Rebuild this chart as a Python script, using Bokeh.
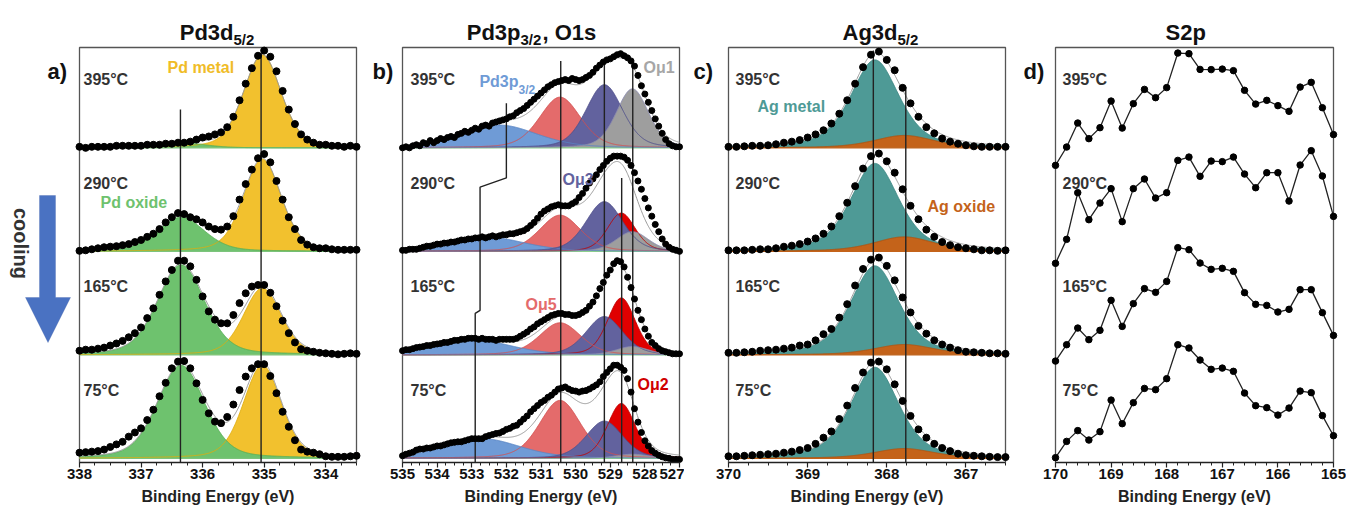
import numpy as np
from bokeh.plotting import figure
from bokeh.layouts import row
from bokeh.models import Range1d, FixedTicker, Label, PolyAnnotation
from bokeh.embed import file_html
from bokeh.resources import INLINE

FONT = "Liberation Sans"
temps = ["395°C", "290°C", "165°C", "75°C"]
offsets = [3.0, 2.0, 1.0, 0.0]

# ---------------- panel a: Pd3d5/2 (338.0 -> 333.5 eV, 0.1 eV steps)
a_start, a_step = 338.0, 0.1
a_395 = [0.01, 0.00, 0.01, 0.01, 0.01, 0.01, 0.02, 0.02, 0.02, 0.02,
         0.02, 0.03, 0.03, 0.03, 0.04, 0.04, 0.05, 0.05, 0.06, 0.08,
         0.10, 0.11, 0.13, 0.15, 0.20, 0.30, 0.46, 0.62, 0.77, 0.89,
         0.94, 0.88, 0.74, 0.55, 0.37, 0.23, 0.13, 0.08, 0.05, 0.03,
         0.03, 0.02, 0.02, 0.01, 0.02, 0.01]
a_290 = [0.005, 0.01, 0.02, 0.03, 0.04, 0.045, 0.05, 0.06, 0.07, 0.09,
         0.11, 0.14, 0.17, 0.215, 0.28, 0.33, 0.37, 0.36, 0.33, 0.31,
         0.28, 0.24, 0.215, 0.21, 0.24, 0.34, 0.50, 0.65, 0.79, 0.90,
         0.94, 0.86, 0.68, 0.50, 0.33, 0.215, 0.11, 0.065, 0.04, 0.03,
         0.03, 0.02, 0.015, 0.015, 0.015, 0.015]
a_165 = [0.04, 0.05, 0.05, 0.06, 0.07, 0.09, 0.11, 0.135, 0.17, 0.21,
         0.265, 0.355, 0.45, 0.58, 0.71, 0.82, 0.91, 0.91, 0.855, 0.725,
         0.565, 0.42, 0.34, 0.305, 0.305, 0.385, 0.50, 0.595, 0.66, 0.675,
         0.675, 0.60, 0.47, 0.33, 0.21, 0.12, 0.055, 0.04, 0.03, 0.02,
         0.015, 0.01, 0.005, 0.01, 0.015, 0.01]
a_75 = [0.055, 0.06, 0.065, 0.07, 0.085, 0.11, 0.135, 0.16, 0.21, 0.25,
        0.29, 0.37, 0.47, 0.60, 0.73, 0.87, 0.935, 0.94, 0.87, 0.725,
        0.565, 0.435, 0.355, 0.34, 0.40, 0.52, 0.66, 0.79, 0.87, 0.91,
        0.91, 0.795, 0.63, 0.45, 0.305, 0.175, 0.085, 0.065, 0.055, 0.04,
        0.02, 0.015, 0.015, 0.015, 0.02, 0.025]
a_metal_pos, a_metal_fwhm = 335.03, 0.72
a_metal_h = [0.90, 0.89, 0.645, 0.90]
a_oxide_pos, a_oxide_fwhm = 336.35, 0.90
a_oxide_h = [0.05, 0.33, 0.87, 0.90]
a_marker_x = [335.05, 336.36]
a_marker_top = [3.92, 3.37]

# ---------------- panel b: Pd3p3/2, O1s (535.0 -> 527.0 eV, 0.1 eV steps)
b_start, b_step = 535.0, 0.1
b_395 = [0.00, 0.01, 0.00, 0.02, 0.03, 0.02, 0.05, 0.04, 0.07, 0.05,
         0.07, 0.09, 0.08, 0.10, 0.11, 0.10, 0.13, 0.14, 0.16, 0.15,
         0.17, 0.19, 0.18, 0.21, 0.22, 0.21, 0.24, 0.25, 0.26, 0.27,
         0.28, 0.30, 0.31, 0.34, 0.36, 0.38, 0.41, 0.44, 0.47, 0.50,
         0.53, 0.56, 0.59, 0.61, 0.63, 0.64, 0.65, 0.66, 0.65, 0.67,
         0.66, 0.65, 0.66, 0.68, 0.70, 0.73, 0.77, 0.80, 0.83, 0.85,
         0.86, 0.88, 0.90, 0.91, 0.89, 0.87, 0.84, 0.79, 0.70, 0.60,
         0.52, 0.44, 0.36, 0.28, 0.21, 0.14, 0.08, 0.04, 0.02, 0.01,
         0.01]
b_290 = [0.01, 0.01, 0.02, 0.02, 0.02, 0.03, 0.04, 0.05, 0.05, 0.06,
         0.07, 0.07, 0.08, 0.08, 0.09, 0.09, 0.10, 0.11, 0.11, 0.12,
         0.12, 0.13, 0.13, 0.14, 0.13, 0.14, 0.15, 0.14, 0.15, 0.16,
         0.16, 0.17, 0.17, 0.18, 0.19, 0.20, 0.22, 0.25, 0.28, 0.32,
         0.36, 0.39, 0.41, 0.43, 0.44, 0.45, 0.44, 0.44, 0.44, 0.46,
         0.48, 0.52, 0.56, 0.61, 0.66, 0.70, 0.74, 0.79, 0.83, 0.87,
         0.90, 0.92, 0.92, 0.92, 0.91, 0.88, 0.83, 0.76, 0.68, 0.60,
         0.51, 0.42, 0.34, 0.26, 0.19, 0.12, 0.07, 0.04, 0.02, 0.01,
         0.00]
b_165 = [0.04, 0.05, 0.05, 0.06, 0.07, 0.075, 0.08, 0.09, 0.09, 0.10,
         0.105, 0.11, 0.12, 0.12, 0.13, 0.14, 0.14, 0.15, 0.15, 0.16,
         0.16, 0.16, 0.15, 0.16, 0.15, 0.15, 0.15, 0.14, 0.15, 0.15,
         0.15, 0.15, 0.15, 0.16, 0.18, 0.20, 0.22, 0.25, 0.27, 0.30,
         0.32, 0.34, 0.36, 0.38, 0.39, 0.40, 0.40, 0.39, 0.39, 0.38,
         0.38, 0.39, 0.41, 0.43, 0.47, 0.51, 0.57, 0.64, 0.70, 0.77,
         0.82, 0.88, 0.91, 0.90, 0.85, 0.75, 0.65, 0.54, 0.43, 0.34,
         0.25, 0.18, 0.12, 0.09, 0.06, 0.04, 0.03, 0.02, 0.01, 0.01,
         0.01]
b_75 = [0.025, 0.04, 0.05, 0.06, 0.08, 0.09, 0.09, 0.10, 0.10, 0.11,
        0.12, 0.12, 0.13, 0.14, 0.15, 0.155, 0.16, 0.16, 0.17, 0.18,
        0.19, 0.19, 0.19, 0.19, 0.21, 0.22, 0.23, 0.24, 0.245, 0.26,
        0.28, 0.29, 0.31, 0.32, 0.35, 0.38, 0.41, 0.45, 0.48, 0.51,
        0.54, 0.56, 0.59, 0.61, 0.64, 0.67, 0.68, 0.69, 0.67, 0.655,
        0.65, 0.64, 0.65, 0.655, 0.67, 0.69, 0.71, 0.74, 0.79, 0.83,
        0.865, 0.90, 0.90, 0.88, 0.85, 0.77, 0.64, 0.48, 0.35, 0.25,
        0.17, 0.12, 0.075, 0.05, 0.03, 0.015, 0.005, 0.0, -0.01, -0.01,
        -0.01]
b_pd3p_pos = [532.2, 532.6, 533.0, 532.7]
b_pd3p_fwhm = 2.6
b_pd3p_h = [0.22, 0.14, 0.15, 0.19]
b_o5_pos, b_o5_fwhm = 530.45, 1.4
b_o5_h = [0.49, 0.35, 0.31, 0.56]
b_o3_pos, b_o3_fwhm = 529.17, 1.25
b_o3_h = [0.61, 0.48, 0.37, 0.36]
b_o2_pos, b_o2_fwhm = 528.68, 0.95
b_o2_h = [0.0, 0.37, 0.55, 0.53]
b_o1_pos, b_o1_fwhm = 528.36, 1.1
b_o1_h = [0.57, 0.19, 0.08, 0.04]
b_marker_x = [530.43, 529.17, 528.67, 528.35]
b_marker_top = [3.84, 3.80, 2.71, 3.80]
b_pd3p_line_x = [532.0, 532.0, 532.76, 532.76, 532.9, 532.9]
b_pd3p_line_y = [3.43, 2.71, 2.62, 1.43, 1.40, -0.04]

# ---------------- panel c: Ag3d5/2 (370.0 -> 366.5 eV, 0.1 eV steps)
c_start, c_step = 370.0, 0.1
c_395 = [0.01, 0.01, 0.015, 0.02, 0.02, 0.025, 0.035, 0.05, 0.06, 0.075,
         0.10, 0.13, 0.17, 0.235, 0.33, 0.46, 0.62, 0.78, 0.90, 0.93,
         0.85, 0.75, 0.58, 0.43, 0.30, 0.20, 0.14, 0.09, 0.06, 0.04,
         0.025, 0.015, 0.01, 0.01, 0.01, 0.01]
c_290 = [0.01, 0.01, 0.01, 0.015, 0.02, 0.02, 0.03, 0.045, 0.055, 0.07,
         0.095, 0.125, 0.17, 0.24, 0.34, 0.47, 0.63, 0.80, 0.92, 0.945,
         0.87, 0.76, 0.60, 0.44, 0.31, 0.21, 0.14, 0.09, 0.06, 0.04,
         0.03, 0.02, 0.01, 0.01, 0.005, 0.01]
c_165 = [0.02, 0.02, 0.025, 0.03, 0.04, 0.045, 0.05, 0.06, 0.07, 0.09,
         0.10, 0.14, 0.20, 0.25, 0.36, 0.49, 0.67, 0.83, 0.92, 0.94,
         0.86, 0.72, 0.555, 0.41, 0.28, 0.205, 0.14, 0.10, 0.07, 0.045,
         0.03, 0.025, 0.02, 0.015, 0.015, 0.01]
c_75 = [0.02, 0.02, 0.025, 0.03, 0.035, 0.04, 0.045, 0.055, 0.065, 0.08,
        0.10, 0.14, 0.20, 0.26, 0.38, 0.51, 0.68, 0.83, 0.925, 0.935,
        0.86, 0.715, 0.555, 0.41, 0.28, 0.20, 0.14, 0.10, 0.07, 0.045,
        0.03, 0.025, 0.02, 0.015, 0.012, 0.012]
c_metal_pos, c_metal_fwhm = 368.15, 0.72
c_metal_h = [0.85, 0.85, 0.86, 0.88]
c_oxide_pos, c_oxide_fwhm = 367.78, 0.90
c_oxide_h = [0.12, 0.14, 0.10, 0.095]
c_marker_x = [368.17, 367.76]
c_marker_top = [3.94, 3.59]

# ---------------- panel d: S2p (170.0 -> 165.0 eV, 0.2 eV steps)
d_start, d_step = 170.0, 0.2
d_395 = [0.031, 0.208, 0.440, 0.289, 0.395, 0.652, 0.391, 0.627, 0.765, 0.685,
         0.782, 1.116, 1.110, 0.958, 0.956, 0.961, 0.946, 0.756, 0.623, 0.659,
         0.608, 0.553, 0.787, 0.833, 0.588, 0.328]
d_290 = [0.034, 0.266, 0.717, 0.456, 0.617, 0.756, 0.437, 0.756, 0.849, 0.665,
         0.717, 1.029, 1.061, 0.875, 1.022, 1.017, 1.061, 0.897, 0.765, 0.910,
         0.910, 0.636, 0.984, 1.123, 0.878, 0.488]
d_165 = [0.020, 0.178, 0.339, 0.227, 0.317, 0.607, 0.355, 0.575, 0.720, 0.684,
         0.790, 1.116, 1.096, 0.967, 0.906, 0.916, 0.887, 0.681, 0.568, 0.558,
         0.494, 0.520, 0.710, 0.710, 0.488, 0.268]
d_75 = [0.007, 0.164, 0.268, 0.177, 0.258, 0.563, 0.335, 0.538, 0.676, 0.664,
        0.770, 1.098, 1.066, 0.950, 0.860, 0.872, 0.841, 0.631, 0.509, 0.490,
        0.418, 0.486, 0.650, 0.635, 0.413, 0.219]
d_offsets = [2.8, 1.85, 0.92, 0.0]

x_title = "Binding Energy (eV)"

# ======================================================================
PPU = 103.5          # pixels per y unit
AXIS_Y = 462         # page y of the axis line
BOX_TOP = 47         # page y of the box top
PAGE_H = 507


def Y(py):
    return -0.04 + (AXIS_Y - py) / PPU


Y_LO, Y_TOP = Y(AXIS_Y), Y(BOX_TOP)

PANEL = {
    "a": dict(left=79, right=356, xr=(338.0, 333.5), f0=0, f1=361,
              ticks=[338, 337, 336, 335, 334], minor=[338 - 0.25 * i for i in range(19)]),
    "b": dict(left=402, right=679, xr=(535.0, 527.0), f0=361, f1=684,
              ticks=[535, 534, 533, 532, 531, 530, 529, 528, 527], minor=[535 - 0.25 * i for i in range(33)]),
    "c": dict(left=728, right=1005, xr=(370.0, 366.5), f0=684, f1=1010,
              ticks=[370, 369, 368, 367], minor=[370 - 0.25 * i for i in range(15)]),
    "d": dict(left=1055, right=1333, xr=(170.0, 165.0), f0=1010, f1=1346,
              ticks=[170, 169, 168, 167, 166, 165], minor=[170 - 0.2 * i for i in range(26)]),
}


def X(key, px):
    c = PANEL[key]
    x0, x1 = c["xr"]
    return x0 + (px - c["left"]) / (c["right"] - c["left"]) * (x1 - x0)


def pv(E, c, h, w, eta):
    x = (E - c) / w
    return h * ((1 - eta) * np.exp(-4 * np.log(2) * x * x) + eta / (1 + 4 * x * x))


def grid_of(start, step, n):
    return np.round(start - step * np.arange(n), 3)


def lab(p, x, y, text, size, color, align="left", baseline="middle", angle=0.0, style="bold"):
    p.add_layout(Label(x=x, y=y, text=text, text_font=FONT, text_font_size=size,
                       text_font_style=style, text_color=color, text_align=align,
                       text_baseline=baseline, angle=angle))


def mkfig(key):
    c = PANEL[key]
    p = figure(x_range=Range1d(X(key, c["f0"]), X(key, c["f1"])),
               y_range=Range1d(Y(PAGE_H), Y(0)),
               frame_width=c["f1"] - c["f0"], frame_height=PAGE_H,
               min_border_left=0, min_border_right=0,
               min_border_top=0, min_border_bottom=0,
               output_backend="svg", toolbar_location=None, y_axis_location=None)
    p.grid.visible = False
    p.outline_line_color = None
    p.background_fill_color = "white"
    p.border_fill_color = "white"
    ax = p.xaxis[0]
    ax.fixed_location = Y_LO
    ax.bounds = (min(c["xr"]), max(c["xr"]))
    ax.ticker = FixedTicker(ticks=c["ticks"], minor_ticks=c["minor"])
    ax.major_label_text_font = FONT
    ax.major_label_text_font_style = "bold"
    ax.major_label_text_font_size = "15px"
    ax.major_label_text_color = "#111111"
    ax.major_label_standoff = 1
    ax.major_tick_out = 5
    ax.major_tick_in = 0
    ax.minor_tick_out = 3
    ax.minor_tick_in = 0
    ax.axis_line_color = "#222222"
    ax.axis_line_width = 1.3
    ax.major_tick_line_color = "#222222"
    ax.major_tick_line_width = 1.2
    ax.minor_tick_line_color = "#222222"
    ax.minor_tick_line_width = 1.0
    x0, x1 = c["xr"]
    p.line([x0, x0, x1, x1], [Y_LO, Y_TOP, Y_TOP, Y_LO], line_color="#555555", line_width=1.3)
    lab(p, (x0 + x1) / 2, Y(496), x_title, "16px", "#222222", align="center", baseline="alphabetic")
    return p


def draw_fit(p, E, spectra, comps, eta, base_color):
    g = np.linspace(min(E), max(E), 500)
    for i, (off, data) in enumerate(zip(offsets, spectra)):
        curves = []
        for cp in comps:
            pos = cp["pos"][i] if isinstance(cp["pos"], list) else cp["pos"]
            curves.append(pv(g, pos, cp["h"][i], cp["w"], eta))
        for cp, cv in zip(comps, curves):
            if cp["h"][i] > 0:
                p.varea(x=g, y1=np.full_like(g, off), y2=off + cv, fill_color=cp["fill"], fill_alpha=1.0)
        p.line([g[0], g[-1]], [off, off], line_color=base_color, line_width=1.2)
        for cp, cv in zip(comps, curves):
            if cp["h"][i] > 0:
                p.line(g, off + cv, line_color=cp["line"], line_width=0.9)
        env = np.sum(curves, axis=0)
        p.line(g, off + env, line_color="#999999", line_width=1.0)


def draw_dots(p, E, spectra, size, offs=None):
    offs = offs or offsets
    for off, data in zip(offs, spectra):
        p.scatter(E, off + np.array(data), size=size, fill_color="black", line_color="black")


def temp_labels(p, key, px):
    for t, off in zip(temps, offsets):
        lab(p, X(key, px), off + 0.66, t, "16px", "#333333")


def vlines(p, xs, tops):
    for x, t in zip(xs, tops):
        p.line([x, x], [Y_LO, t], line_color="#222222", line_width=1.4)


# ---------------- panel a
pa = mkfig("a")
Ea = grid_of(a_start, a_step, len(a_395))
draw_fit(pa, Ea, [a_395, a_290, a_165, a_75],
         [dict(pos=a_metal_pos, w=a_metal_fwhm, h=a_metal_h, fill="#F2C12E", line="#E0AE10"),
          dict(pos=a_oxide_pos, w=a_oxide_fwhm, h=a_oxide_h, fill="#6EC26E", line="#58B058")],
         0.3, "#7CC47C")
vlines(pa, a_marker_x, a_marker_top)
draw_dots(pa, Ea, [a_395, a_290, a_165, a_75], 7)
temp_labels(pa, "a", 83)
lab(pa, X("a", 167), Y(67), "Pd metal", "16px", "#F0BC28")
lab(pa, X("a", 100), Y(202), "Pd oxide", "16px", "#6EC26E")
lab(pa, X("a", 233), Y(32), "Pd3d", "22px", "#111111", align="right", baseline="alphabetic")
lab(pa, X("a", 233), Y(39), "5/2", "15px", "#111111", baseline="alphabetic")
lab(pa, X("a", 47), Y(71), "a)", "22px", "#111111", baseline="alphabetic")
arrow_px = [(39, 195), (55, 195), (55, 297), (70, 297), (47.5, 342), (25, 297), (39, 297)]
pa.add_layout(PolyAnnotation(xs=[X("a", q[0]) for q in arrow_px], ys=[Y(q[1]) for q in arrow_px],
                             fill_color="#4A72C2", fill_alpha=1.0, line_color="#3A5EA8", line_width=1.0))
lab(pa, X("a", 20), Y(243), "cooling", "20px", "#333333", align="center", angle=-np.pi / 2)

# ---------------- panel b
pb = mkfig("b")
Eb = grid_of(b_start, b_step, len(b_395))
draw_fit(pb, Eb, [b_395, b_290, b_165, b_75],
         [dict(pos=b_o2_pos, w=b_o2_fwhm, h=b_o2_h, fill="#E00000", line="#C00000"),
          dict(pos=b_o5_pos, w=b_o5_fwhm, h=b_o5_h, fill="#E46B6B", line="#D45050"),
          dict(pos=b_pd3p_pos, w=b_pd3p_fwhm, h=b_pd3p_h, fill="#6F9BD6", line="#5A86C4"),
          dict(pos=b_o3_pos, w=b_o3_fwhm, h=b_o3_h, fill="#62629E", line="#50508C"),
          dict(pos=b_o1_pos, w=b_o1_fwhm, h=b_o1_h, fill="#9E9E9E", line="#8C8CB0")],
         0.3, "#8CD08C")
vlines(pb, b_marker_x, b_marker_top)
pb.line(b_pd3p_line_x, b_pd3p_line_y, line_color="#222222", line_width=1.4)
draw_dots(pb, Eb, [b_395, b_290, b_165, b_75], 6)
temp_labels(pb, "b", 410)
lab(pb, X("b", 518), Y(81), "Pd3p", "16px", "#6F9BD6", align="right")
lab(pb, X("b", 518), Y(89), "3/2", "12px", "#6F9BD6")
lab(pb, X("b", 643), Y(67), "Oμ1", "16px", "#A6A6A6")
lab(pb, X("b", 562), Y(179), "Oμ3", "16px", "#62629E")
lab(pb, X("b", 525), Y(304), "Oμ5", "16px", "#E46B6B")
lab(pb, X("b", 637), Y(384), "Oμ2", "16px", "#D00000")
lab(pb, X("b", 520), Y(32), "Pd3p", "22px", "#111111", align="right", baseline="alphabetic")
lab(pb, X("b", 520), Y(39), "3/2", "15px", "#111111", baseline="alphabetic")
lab(pb, X("b", 542), Y(32), ", O1s", "22px", "#111111", baseline="alphabetic")
lab(pb, X("b", 372), Y(71), "b)", "22px", "#111111", baseline="alphabetic")

# ---------------- panel c
pc = mkfig("c")
Ec = grid_of(c_start, c_step, len(c_395))
draw_fit(pc, Ec, [c_395, c_290, c_165, c_75],
         [dict(pos=c_metal_pos, w=c_metal_fwhm, h=c_metal_h, fill="#4E9A96", line="#3E8884"),
          dict(pos=c_oxide_pos, w=c_oxide_fwhm, h=c_oxide_h, fill="#C4631A", line="#B05410")],
         0.5, "#C4631A")
vlines(pc, c_marker_x, c_marker_top)
draw_dots(pc, Ec, [c_395, c_290, c_165, c_75], 7)
temp_labels(pc, "c", 735)
lab(pc, X("c", 757), Y(106), "Ag metal", "16px", "#4E9A96")
lab(pc, X("c", 927), Y(206), "Ag oxide", "16px", "#C4631A")
lab(pc, X("c", 897), Y(32), "Ag3d", "22px", "#111111", align="right", baseline="alphabetic")
lab(pc, X("c", 897), Y(39), "5/2", "15px", "#111111", baseline="alphabetic")
lab(pc, X("c", 693), Y(71), "c)", "22px", "#111111", baseline="alphabetic")

# ---------------- panel d
pd_ = mkfig("d")
Ed = grid_of(d_start, d_step, len(d_395))
for off, data in zip(d_offsets, [d_395, d_290, d_165, d_75]):
    pd_.line(Ed, off + np.array(data), line_color="#222222", line_width=1.3)
draw_dots(pd_, Ed, [d_395, d_290, d_165, d_75], 6.5, d_offsets)
temp_labels(pd_, "d", 1062)
lab(pd_, X("d", 1165), Y(32), "S2p", "22px", "#111111", baseline="alphabetic")
lab(pd_, X("d", 1023), Y(71), "d)", "22px", "#111111", baseline="alphabetic")

layout = row(pa, pb, pc, pd_)
open("out.html", "w").write(file_html(layout, INLINE))
